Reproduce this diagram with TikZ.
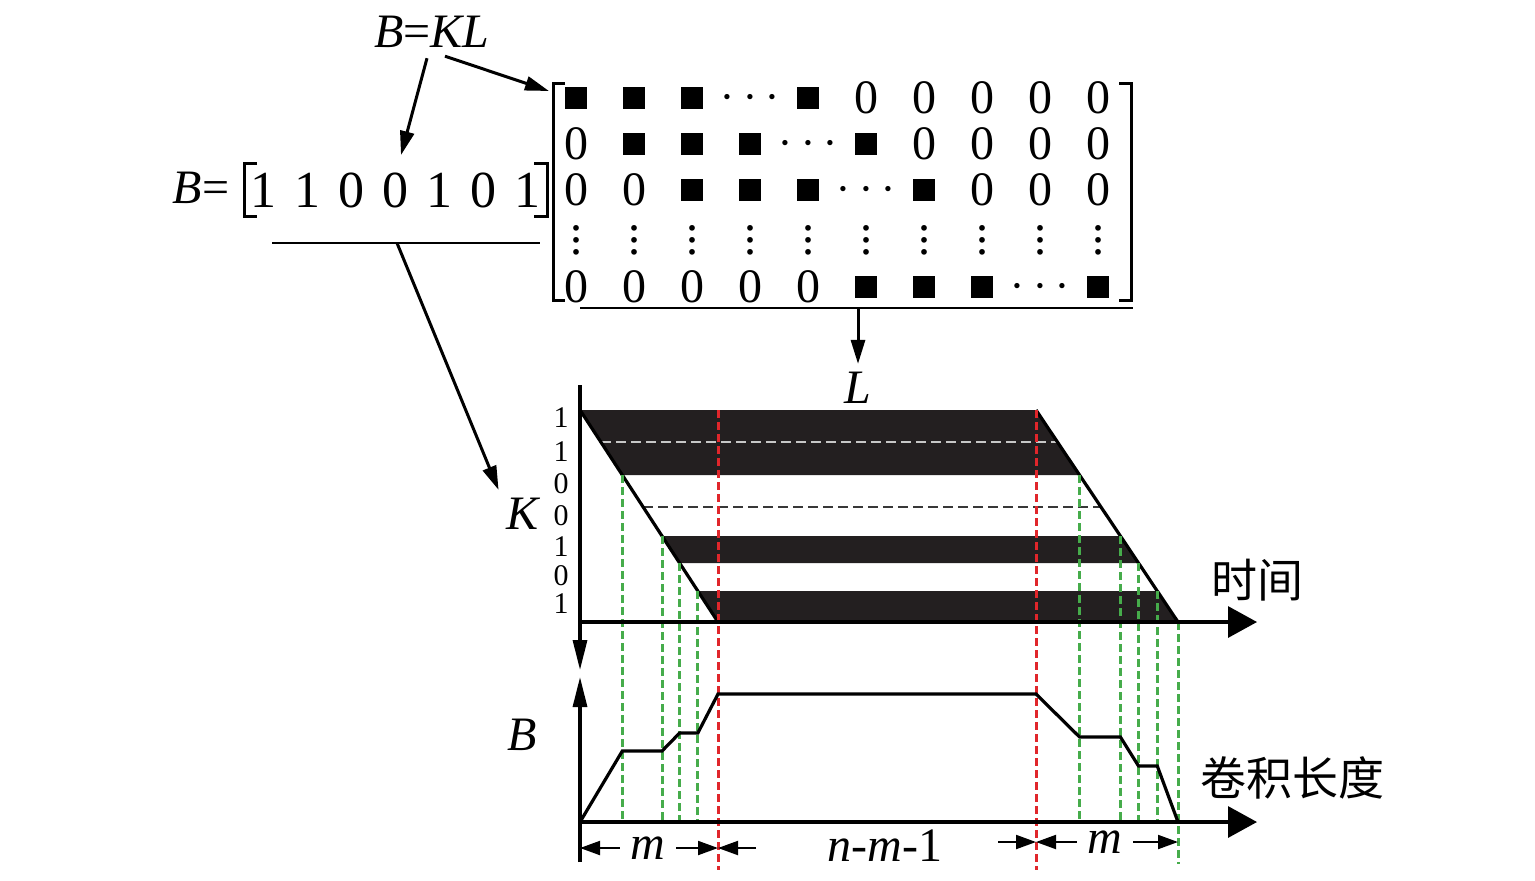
\documentclass[tikz,border=0pt]{standalone}
\usepackage{fontspec}
\setmainfont{Liberation Serif}
\newfontfamily\cjk{Noto Sans CJK SC}
\usetikzlibrary{arrows,arrows.meta,calc}
\definecolor{gdash}{RGB}{70,172,75}
\definecolor{rdash}{RGB}{224,38,43}
\definecolor{barc}{RGB}{35,31,32}
\newcommand{\sq}{\rule{11pt}{11pt}}
\newcommand{\cd}{$\cdots$}
\newcommand{\vd}{\vbox{\baselineskip=6pt\lineskiplimit=0pt\hbox{.}\hbox{.}\hbox{.}}}

\begin{document}
\begin{tikzpicture}[x=0.5pt,y=-0.5pt,line join=miter,>={Triangle[length=12pt,width=7pt]},
  big/.style={font=\fontsize{24}{26}\selectfont,inner sep=1pt},
  ent/.style={font=\fontsize{24}{26}\selectfont,inner sep=0pt},
  vec/.style={font=\fontsize{26}{28}\selectfont,inner sep=0pt},
  bit/.style={font=\fontsize{15}{16}\selectfont,inner sep=0pt},
  zh/.style={font=\cjk\fontsize{23}{25}\selectfont,inner sep=0pt},
  conn/.style={->,line width=1.5pt},
  dim/.style={-{Triangle[length=10pt,width=7pt]},line width=1pt},
  haxis/.style={line width=1.6pt,-{Triangle[length=14.5pt,width=15.5pt]}},
  vaxis/.style={line width=1.6pt,-{Triangle[length=15pt,width=7pt]}},
  brk/.style={line width=1.5pt},
  gline/.style={gdash,line width=1.5pt,dash pattern=on 4pt off 2pt},
  rline/.style={rdash,line width=1.5pt,dash pattern=on 4pt off 2pt}]
\useasboundingbox (0,0) rectangle (1535,880);

\node[big] (bkl) at (432,32) {\textit{B}=\textit{KL}};
\node[big] (beq) at (201,188) {\textit{B}=};
\foreach \d [count=\i] in {1,1,0,0,1,0,1}
  \node[vec] (b\i) at ({263+(\i-1)*44},190) {\d};
\draw[brk] (257,163) -- (244,163) -- (244,216) -- (257,216);
\draw[brk] (534,163) -- (547,163) -- (547,216) -- (534,216);
\draw[line width=1.2pt] (272,243) -- (540,243);
\coordinate (bu) at (397,243);

\foreach \row [count=\r] in {{\sq,\sq,\sq,\cd,\sq,0,0,0,0,0},{0,\sq,\sq,\sq,\cd,\sq,0,0,0,0},{0,0,\sq,\sq,\sq,\cd,\sq,0,0,0},{\vd,\vd,\vd,\vd,\vd,\vd,\vd,\vd,\vd,\vd},{0,0,0,0,0,\sq,\sq,\sq,\cd,\sq}}{
  \pgfmathsetmacro\yy{{98,144,190,240,287}[\r-1]}
  \foreach \e [count=\c] in \row
    \node[ent] (m\r-\c) at ({576+(\c-1)*58},\yy) {\e};
}
\draw[brk] (565,83) -- (553,83) -- (553,300) -- (565,300);
\draw[brk] (1119,83) -- (1131,83) -- (1131,300) -- (1119,300);
\draw[line width=1.2pt] (580,308) -- (1133,308);
\coordinate (mu) at (858,308);
\coordinate (mtl) at (549,91);

\node[big] (ll) at (858,388) {\textit{L}};
\node[big] (kl) at (524,514) {\textit{K}};
\node[big] (blab) at (522,735) {\textit{B}};
\node[zh] (tlab) at (1257,580) {时间};
\node[zh] (clab) at (1292,778) {卷积长度};

\draw[conn] ([shift={(-2.5pt,-4pt)}]bkl.south) -- ([shift={(3pt,8.5pt)}]b4.north);
\draw[conn] ([shift={(6.5pt,-3pt)}]bkl.south) -- (mtl);
\draw[conn] (bu) -- ([shift={(-3pt,3pt)}]kl.north west);
\draw[conn] (mu) -- ([yshift=3pt]ll.north);

\foreach \d/\yy [count=\i] in {1/418,1/452,0/484,0/516,1/547,0/576,1/604}
  \node[bit] (k\i) at (561,\yy) {\d};

\coordinate (tl) at (580,410);
\coordinate (bl) at (718,622);
\coordinate (tr) at (1036,410);
\coordinate (br) at (1178,622);
\coordinate (o1) at (580,622);
\coordinate (o2) at (580,822);
\foreach \ya/\yb in {410/475,536/563,591/622}
  \fill[barc] ({580+(\ya-410)*0.651},\ya) -- ({1036+(\ya-410)*0.67},\ya) -- ({1036+(\yb-410)*0.67},\yb) -- ({580+(\yb-410)*0.651},\yb) -- cycle;
\draw[black!22,line width=1.3pt,dash pattern=on 5pt off 2.5pt] ({580+32*0.651},442) -- ({1036+32*0.67},442);
\draw[black!78,line width=1.3pt,dash pattern=on 5pt off 2.5pt] ({580+97*0.651},507) -- ({1036+97*0.67},507);
\draw[line width=1.6pt] (tl) -- (bl);
\draw[line width=1.6pt] (tr) -- (br);

\foreach \n/\yy in {a/475,b/536,c/563,d/591}{
  \coordinate (l\n) at ({580+(\yy-410)*0.651},\yy);
  \coordinate (r\n) at ({1036+(\yy-410)*0.67},\yy);
}
\foreach \p in {la,lb,lc,ld,ra,rb,rc,rd}
  \draw[gline] (\p) -- (\p |- o2);
\draw[gline] (br) -- (br |- 0,864);
\draw[rline] (bl |- tl) -- (bl |- 0,870);
\draw[rline] (tr) -- (tr |- 0,870);

\draw[haxis] (o1) -- (1257,622);
\draw[haxis] (o2) -- (1257,822);
\draw[vaxis] (580,385) -- (580,670);
\draw[vaxis] (580,862) -- (580,677);

\draw[line width=1.6pt] (o2) -- (la |- 0,751) -- (lb |- 0,751) -- (lc |- 0,733) -- (ld |- 0,733) -- (bl |- 0,694) -- (tr |- 0,694) -- (ra |- 0,737) -- (rb |- 0,737) -- (rc |- 0,766) -- (rd |- 0,766) -- (br |- o2);

\node[big,inner xsep=5.3pt] (m1) at (648,848) {\textit{m}};
\node[big] (nm) at (885,846) {\textit{n}-\textit{m}-1};
\node[big,inner xsep=5.3pt] (m2) at (1105,842) {\textit{m}};
\draw[dim] (m1.west) -- (o2 |- m1);
\draw[dim] (m1.east) -- (bl |- m1);
\draw[dim] ($(bl |- m1)+(38,0)$) -- (bl |- m1);
\draw[dim] ($(tr |- m2)+(-38,0)$) -- (tr |- m2);
\draw[dim] (m2.west) -- (tr |- m2);
\draw[dim] (m2.east) -- (br |- m2);
\end{tikzpicture}
\end{document}
